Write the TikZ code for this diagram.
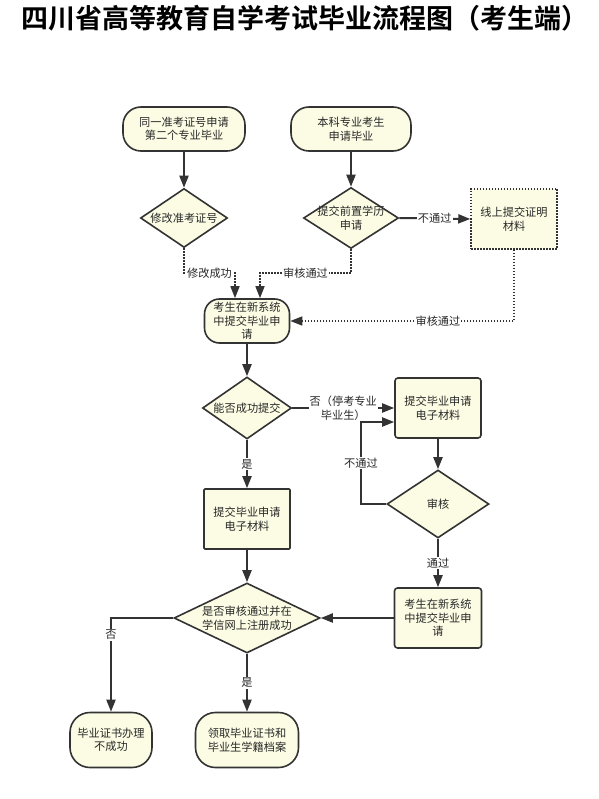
\documentclass[tikz,border=0pt]{standalone}
\usepackage{fontspec}
\setmainfont{Noto Sans CJK SC}[BoldFont={Noto Sans CJK SC Bold}]
\usetikzlibrary{shapes.geometric,arrows.meta}
\definecolor{fillc}{RGB}{252,252,228}
\definecolor{linec}{RGB}{51,51,51}
\definecolor{txtc}{RGB}{40,40,40}
\begin{document}
\begin{tikzpicture}[x=1pt,y=-1pt,
 txt/.style={font=\fontsize{11.2}{13.5}\selectfont, text=txtc, align=center},
 base/.style={draw=linec, line width=1.6pt, fill=fillc, txt, inner sep=1pt},
 pill/.style={base, rounded corners=18pt},
 box/.style={base, rounded corners=3pt},
 sqbox/.style={base, rounded corners=1pt},
 dotbox/.style={base, line width=1.5pt, dash pattern=on 1.5pt off 1.5pt},
 dia/.style={draw=linec, line width=1.6pt, fill=fillc, diamond, inner sep=0pt},
 arr/.style={draw=linec, line width=2pt, -{Triangle[length=12pt,width=9pt]}},
 plain/.style={draw=linec, line width=2pt},
 dotarr/.style={arr, line width=1.5pt, dash pattern=on 1.5pt off 1.5pt},
 lab/.style={txt, fill=white, inner sep=1pt},
]
\fill[white] (0,0) rectangle (598,799);
\useasboundingbox (0,0) rectangle (598,799);

\node[font=\fontsize{27}{32}\selectfont\bfseries, text=black, inner sep=0pt] (title) at (305,18) {四川省高等教育自学考试毕业流程图（考生端）};

\node[pill, minimum width=122pt, minimum height=44pt] (n1) at (184,129) {同一准考证号申请\\第二个专业毕业};
\node[pill, minimum width=120pt, minimum height=44pt] (n2) at (351,129) {本科专业考生\\申请毕业};
\node[dia, minimum width=87pt, minimum height=59pt, label={[txt]center:修改准考证号}] (d1) at (184,218) {};
\node[dia, minimum width=95pt, minimum height=61pt, label={[txt]center:{提交前置学历\\申请}}] (d2) at (351,218) {};
\node[dotbox, minimum width=86pt, minimum height=60pt] (db) at (514,219) {线上提交证明\\材料};
\node[base, rounded corners=15pt, minimum width=85pt, minimum height=44pt] (n3) at (247,321) {考生在新系统\\中提交毕业申\\请};
\node[dia, minimum width=89pt, minimum height=62pt, label={[txt]center:能否成功提交}] (d3) at (247,408) {};
\node[box, minimum width=86pt, minimum height=60pt] (rb1) at (438,408) {提交毕业申请\\电子材料};
\node[dia, minimum width=102pt, minimum height=68pt, label={[txt]center:审核}] (d4) at (438,504) {};
\node[sqbox, minimum width=86pt, minimum height=60pt] (lb1) at (247,519) {提交毕业申请\\电子材料};
\node[dia, minimum width=146pt, minimum height=70pt, label={[txt]center:{是否审核通过并在\\学信网上注册成功}}] (d5) at (247,618) {};
\node[box, minimum width=87pt, minimum height=60pt] (rb2) at (438,618) {考生在新系统\\中提交毕业申\\请};
\node[pill, rounded corners=20pt, minimum width=82pt, minimum height=55pt] (e1) at (111,740) {毕业证书办理\\不成功};
\node[pill, rounded corners=20pt, minimum width=103pt, minimum height=55pt] (e2) at (247,740) {领取毕业证书和\\毕业生学籍档案};

\coordinate (c1) at (235,273);
\coordinate (c2) at (260,273);
\coordinate (r0) at (361,504);
\coordinate (r1) at (361,422);

\draw[arr] (n1) -- (d1);
\draw[arr] (n2) -- (d2);
\draw[arr] (d2.east) -- node[lab]{不通过} (db.west);
\draw[dotarr] (d1.south) |- node[lab, pos=0.75]{修改成功} (c1) -- (c1 |- n3.north);
\draw[dotarr] (d2.south) |- node[lab, pos=0.75]{审核通过} (c2) -- (c2 |- n3.north);
\draw[dotarr] (db.south) |- node[lab, pos=0.67]{审核通过} (n3.east);
\draw[arr] (n3) -- (d3);
\draw[arr] (d3.east) -- node[lab]{否（停考专业\\毕业生）} (rb1.west);
\draw[arr] (rb1) -- (d4);
\draw[arr] (d4.west) -- (r0) -- node[lab]{不通过} (r1) -- (r1 -| rb1.west);
\draw[arr] (d3) -- node[lab]{是} (lb1);
\draw[arr] (d4) -- node[lab]{通过} (rb2);
\draw[arr] (lb1) -- (d5);
\draw[arr] (rb2.west) -- (d5.east);
\draw[arr] (d5.west) -| node[lab, pos=0.59]{否} (e1.north);
\draw[arr] (d5.south) -- node[lab]{是} (e2.north);
\end{tikzpicture}
\end{document}
